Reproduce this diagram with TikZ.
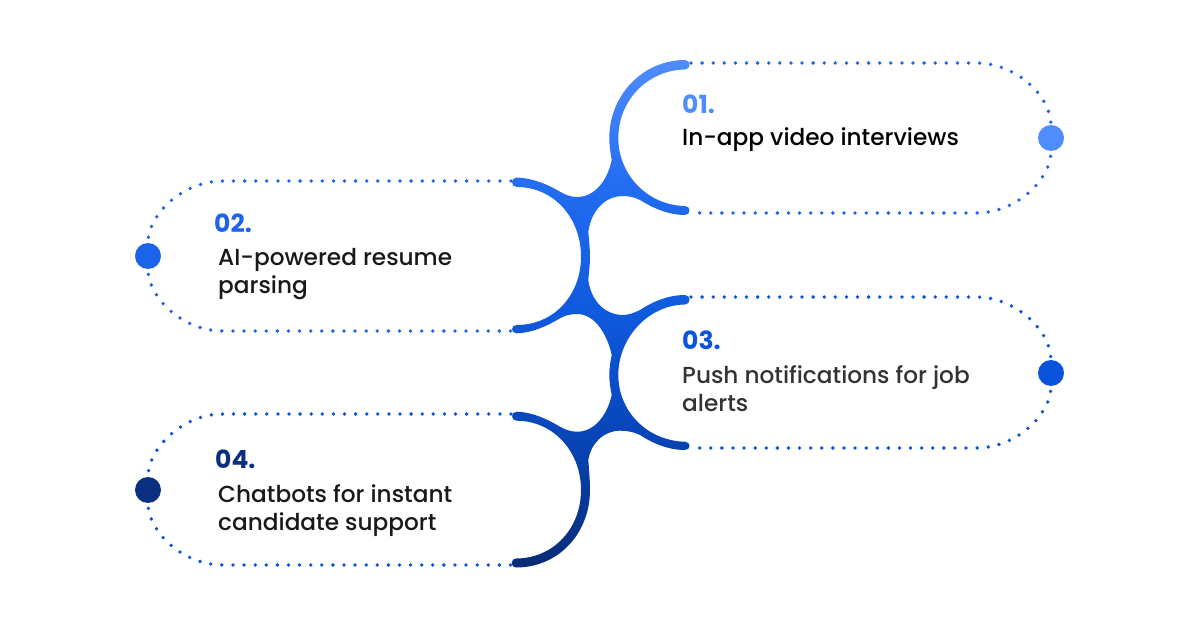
\documentclass[tikz,border=0pt]{standalone}
\usepackage{fontspec}
\setmainfont{Poppins}[UprightFont=* Medium,BoldFont=* Bold]
\usetikzlibrary{positioning,calc}
\definecolor{oneColor}{HTML}{4F8DFF}
\definecolor{twoColor}{HTML}{1D64EA}
\definecolor{threeColor}{HTML}{0A53DB}
\definecolor{fourColor}{HTML}{0B2F80}
\pgfdeclareverticalshading{ribbon}{100bp}{
	rgb(0bp)=(0.03,0.17,0.46);
	rgb(25bp)=(0.03,0.17,0.46);
	rgb(38bp)=(0.03,0.27,0.72);
	rgb(50bp)=(0.06,0.35,0.87);
	rgb(62bp)=(0.13,0.42,0.94);
	rgb(75bp)=(0.31,0.55,1);
	rgb(100bp)=(0.31,0.55,1)}
\tikzset{
	dotloop/.style={line width=3.8pt,line cap=round,dash pattern=on 0pt off 11.1pt},
	dotback/.style={dotloop,dash phase=6pt},
	knob/.style={circle,inner sep=0,minimum size=26pt},
	num/.style={anchor=base west,inner sep=0,font=\fontsize{25}{28}\selectfont\bfseries},
	lab/.style={anchor=base west,inner sep=0,align=left,font=\fontsize{23.2}{28}\selectfont}
}

\begin{document}
\begin{tikzpicture}[x=1pt,y=-1pt]
	\useasboundingbox (0,0) rectangle (1200,628);
	
	\node[knob,fill=oneColor] (d1) at (1051,138) {};
	\node[knob,fill=twoColor] (d2) at (148,256) {};
	\node[knob,fill=threeColor] (d3) at (1051,373) {};
	\node[knob,fill=fourColor] (d4) at (148,490) {};
	
	\coordinate (e1t) at (691,63);
	\coordinate (e1b) at (691,213);
	\coordinate (e2t) at (511,181);
	\coordinate (e2b) at (511,331);
	\coordinate (e3t) at (691,297);
	\coordinate (e3b) at (691,448);
	\coordinate (e4t) at (511,414);
	\coordinate (e4b) at (511,565);
	
	\draw[dotloop,twoColor] (e1t) -- (976,63) .. controls +(41,0) and +(0,-41) .. (d1);
	\draw[dotback,twoColor] (d1) .. controls +(0,41) and +(41,0) .. (976,213) -- (e1b);
	\draw[dotloop,twoColor] (e2t) -- (223,181) .. controls +(-41,0) and +(0,-41) .. (d2);
	\draw[dotback,twoColor] (d2) .. controls +(0,41) and +(-41,0) .. (223,331) -- (e2b);
	\draw[dotloop,threeColor] (e3t) -- (976,297) .. controls +(41,0) and +(0,-41) .. (d3);
	\draw[dotback,threeColor] (d3) .. controls +(0,41) and +(41,0) .. (976,448) -- (e3b);
	\draw[dotloop,threeColor] (e4t) -- (223,414) .. controls +(-41,0) and +(0,-41) .. (d4);
	\draw[dotback,threeColor] (d4) .. controls +(0,41) and +(-41,0) .. (223,565) -- (e4b);
	
	% the four arcs as one outline
	\shade[shading=ribbon] (685,60) .. controls (643,60) and (609.3,95) .. (609.3,138)
		.. controls (609.3,146) and (610.5,153) .. (611.7,160)
		.. controls (607,182) and (594,197) .. (577,197)
		.. controls (570,197) and (565,194.5) .. (560,191.7)
		.. controls (547,184) and (532,178) .. (516.7,177.5)
		.. controls (510.5,177.5) and (510.5,187) .. (516.7,187)
		.. controls (554,187) and (581,218) .. (581,256.7)
		.. controls (581,295) and (554,325) .. (516.7,325)
		.. controls (510.5,325) and (510.5,333.5) .. (516.7,333.3)
		.. controls (532,333) and (547,326) .. (560,318.3)
		.. controls (565,315.5) and (570,314) .. (577.3,314)
		.. controls (594,314) and (607,333) .. (611.7,355)
		.. controls (610.5,361) and (609.3,368) .. (609.3,375)
		.. controls (609.3,382) and (610.5,389) .. (611.7,395)
		.. controls (607,416) and (594,431.7) .. (577.3,431.7)
		.. controls (570,431.7) and (565,429.5) .. (560,426.7)
		.. controls (547,419) and (532,412) .. (516.7,411.7)
		.. controls (510.5,411.7) and (510.5,420.7) .. (516.7,420.7)
		.. controls (554,421) and (581,452) .. (581,490)
		.. controls (581,528) and (554,558) .. (516.7,558.5)
		.. controls (510,558.5) and (510,567.5) .. (516.7,567.5)
		.. controls (560,567) and (590,532) .. (590,490)
		.. controls (590,480) and (589,470) .. (588.3,460)
		.. controls (591,443) and (604,430.7) .. (620,430.7)
		.. controls (627,430.7) and (634,432) .. (640,435)
		.. controls (652,443) and (668,450) .. (685,450)
		.. controls (691,450) and (691,441.7) .. (685,441.7)
		.. controls (648,441) and (618.3,412) .. (618.3,375)
		.. controls (618.3,338) and (648,305) .. (685,304.5)
		.. controls (691,304.5) and (691,295) .. (685,295)
		.. controls (668,295) and (652,302) .. (640,310)
		.. controls (634,313) and (628,315) .. (623.3,315)
		.. controls (604,315) and (591,300) .. (588.3,280)
		.. controls (589,272) and (590,264) .. (590,256.7)
		.. controls (590,249) and (589,240) .. (588.3,231.7)
		.. controls (591,212) and (604,196) .. (623,196)
		.. controls (628,196) and (634,197) .. (640,200)
		.. controls (652,207.5) and (668,215) .. (685,215)
		.. controls (691,215) and (691,206) .. (685,206)
		.. controls (648,205.5) and (618.3,175) .. (618.3,138)
		.. controls (618.3,100) and (648,70) .. (685,69.5)
		.. controls (691,69.5) and (691,60) .. (685,60) -- cycle;
	
	\node[num,text=oneColor] (n1) at (682,114) {01.};
	\node[lab,text=black] (t1) at (682,146) {In-app video interviews};
	\node[num,text=twoColor] (n2) at (214,233) {02.};
	\node[lab,text=black!90] (t2) at (218,294) {AI-powered resume\\parsing};
	\node[num,text=threeColor] (n3) at (682,350) {03.};
	\node[lab,text=black!80] (t3) at (682,411) {Push notifications for job\\alerts};
	\node[num,text=fourColor] (n4) at (215,468) {04.};
	\node[lab,text=black!90] (t4) at (218,530) {Chatbots for instant\\candidate support};
\end{tikzpicture}
\end{document}
